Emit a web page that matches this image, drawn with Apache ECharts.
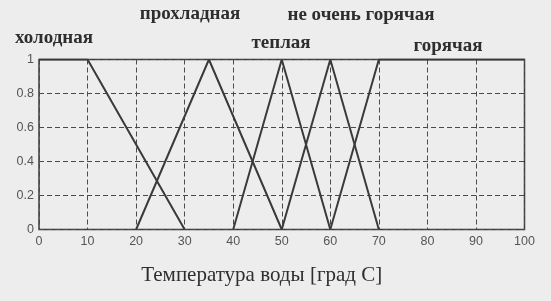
<!DOCTYPE html>
<html><head><meta charset="utf-8">
<script src="https://cdn.jsdelivr.net/npm/echarts@6/dist/echarts.min.js"></script>
<style>html,body{margin:0;padding:0;background:#ededed}#c{width:551px;height:301px}</style>
</head><body><div id="c"></div>
<script>
// membership functions: x breakpoints and membership values
const coldX = [0, 10, 30];      const coldY = [1, 1, 0];
const coolX = [20, 35, 50];     const coolY = [0, 1, 0];
const warmX = [40, 50, 60];     const warmY = [0, 1, 0];
const notHotX = [50, 60, 70];   const notHotY = [0, 1, 0];
const hotX = [60, 70, 100];     const hotY = [0, 1, 1];
const names = ['холодная', 'прохладная', 'теплая', 'не очень горячая', 'горячая'];
const xTicks = [0, 10, 20, 30, 40, 50, 60, 70, 80, 90, 100];
const yTicks = [0, 0.2, 0.4, 0.6, 0.8, 1];
const xTitle = 'Температура воды [град С]';

const sets = [[coldX, coldY], [coolX, coolY], [warmX, warmY], [notHotX, notHotY], [hotX, hotY]];
const chart = echarts.init(document.getElementById('c'), null, {renderer: 'canvas'});
const lineColor = '#3a3a3a';
const labelPos = [[54, 38], [190, 14], [281, 43], [361, 15], [448, 46]];
chart.setOption({
  backgroundColor: '#ededed',
  animation: false,
  grid: {left: 39, right: 26.5, top: 59.5, bottom: 71.5, show: true, borderColor: '#3a3a3a', borderWidth: 1.5},
  xAxis: {
    type: 'value', min: 0, max: 100, interval: 10,
    name: xTitle, nameLocation: 'middle', nameGap: 35,
    nameTextStyle: {fontFamily: 'Liberation Serif', fontSize: 21, color: '#2e2e2e', padding: [0, 40, 0, 0]},
    axisLine: {show: false}, axisTick: {show: false},
    axisLabel: {fontFamily: 'Liberation Sans Narrow, Liberation Sans', fontSize: 12.5, color: '#555', margin: 6,
      formatter: v => xTicks.includes(v) ? String(v) : ''},
    splitLine: {show: true, lineStyle: {type: [5, 3], color: '#4a4a4a', width: 1}}
  },
  yAxis: {
    type: 'value', min: 0, max: 1, interval: 0.2,
    axisLine: {show: false}, axisTick: {show: false},
    axisLabel: {fontFamily: 'Liberation Sans Narrow, Liberation Sans', fontSize: 12.5, color: '#555', margin: 5,
      formatter: v => { const t = yTicks.find(y => Math.abs(y - v) < 1e-9); return t === undefined ? '' : String(t); }},
    splitLine: {show: true, lineStyle: {type: [5, 3], color: '#4a4a4a', width: 1}}
  },
  series: sets.map((s, i) => ({
    type: 'line', name: names[i], symbol: 'none',
    data: s[0].map((x, j) => [x, s[1][j]]),
    lineStyle: {color: lineColor, width: 2}
  })),
  graphic: names.map((n, i) => ({
    type: 'text', x: labelPos[i][0], y: labelPos[i][1],
    style: {text: n, fontFamily: 'Liberation Serif', fontSize: 19, fontWeight: 'bold', fill: '#2e2e2e',
      textAlign: 'center', textVerticalAlign: 'middle'}
  }))
});
</script></body></html>
